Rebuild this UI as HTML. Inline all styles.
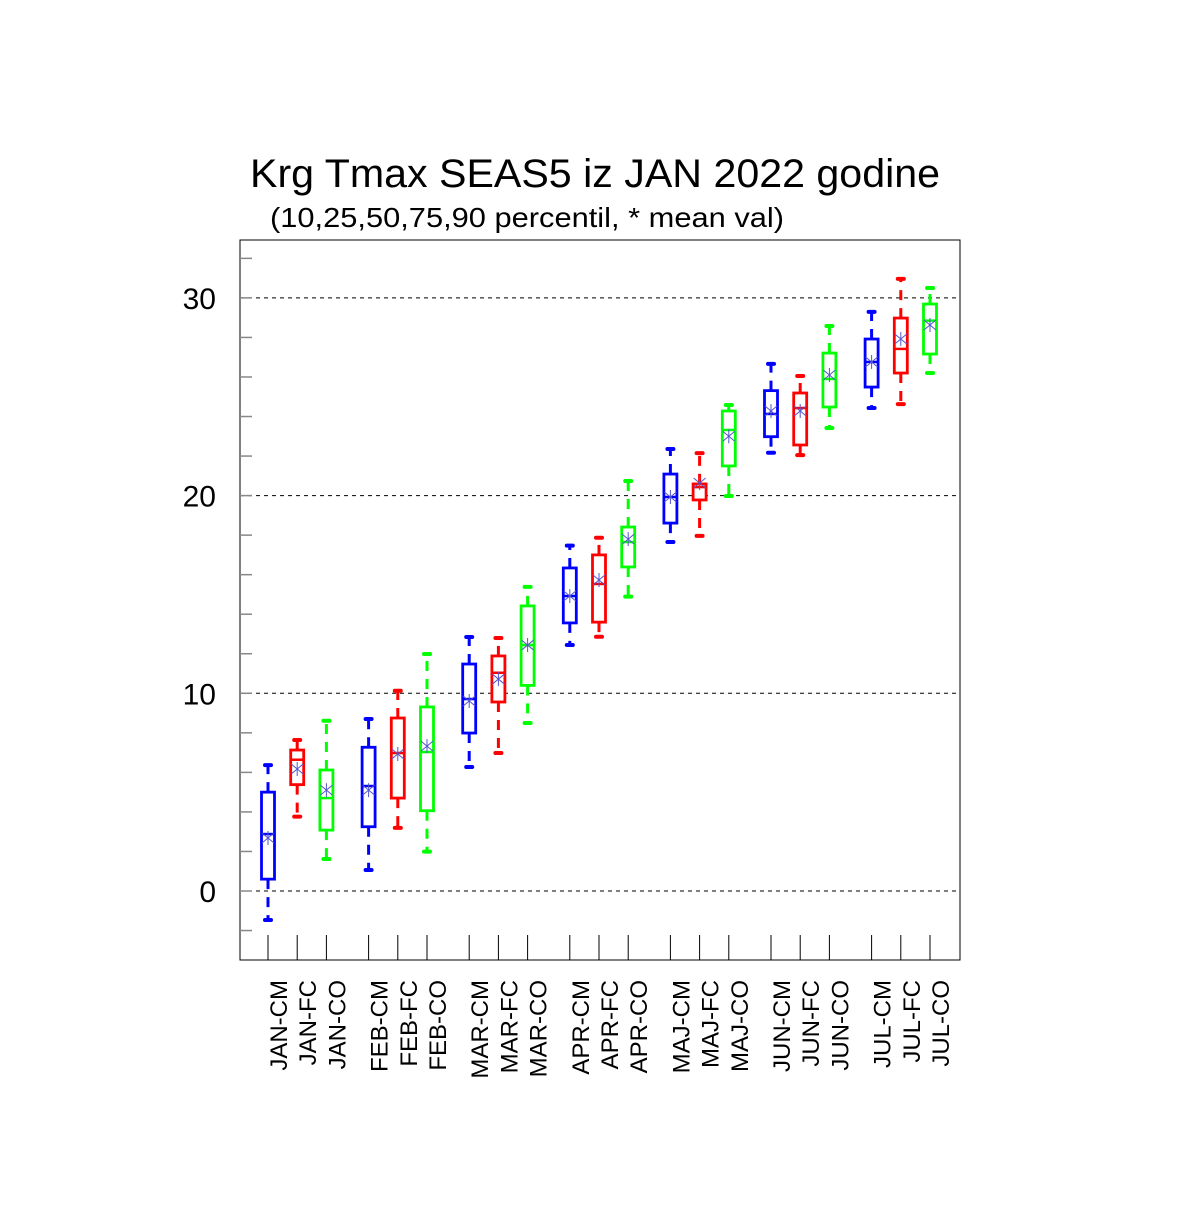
<!DOCTYPE html>
<html><head><meta charset="utf-8"><style>
body{margin:0;background:#fff}
text{font-family:"Liberation Sans",sans-serif}
</style></head><body>
<svg id="chart" width="1200" height="1200" xmlns="http://www.w3.org/2000/svg">
<rect width="1200" height="1200" fill="#fff"/>
<text x="250" y="187" font-size="40" textLength="690" lengthAdjust="spacingAndGlyphs">Krg Tmax SEAS5 iz JAN 2022 godine</text>
<text x="270" y="227" font-size="28" textLength="514" lengthAdjust="spacingAndGlyphs">(10,25,50,75,90 percentil, * mean val)</text>
<g id="grid"></g>
<g id="marks"></g>
<rect x="240" y="240" width="720" height="720" fill="none" stroke="#000" stroke-width="1"/>
<g id="axes"></g>
</svg>
<script>
const categories=["JAN-CM","JAN-FC","JAN-CO","FEB-CM","FEB-FC","FEB-CO","MAR-CM","MAR-FC","MAR-CO","APR-CM","APR-FC","APR-CO","MAJ-CM","MAJ-FC","MAJ-CO","JUN-CM","JUN-FC","JUN-CO","JUL-CM","JUL-FC","JUL-CO"];
const p10=[-1.47,3.76,1.62,1.06,3.19,1.99,6.27,6.98,8.5,12.44,12.86,14.89,17.65,17.96,19.98,22.17,22.05,23.42,24.43,24.63,26.2];
const p25=[0.6,5.38,3.08,3.25,4.7,4.06,7.99,9.56,10.4,13.56,13.6,16.39,18.61,19.78,21.5,22.98,22.56,24.48,25.49,26.2,27.16];
const p50=[2.88,6.64,4.7,5.31,6.98,7.03,9.71,11.04,12.44,14.92,15.53,17.65,19.93,20.43,23.32,24.13,24.43,25.9,26.76,27.42,28.85];
const p75=[5.0,7.13,6.12,7.27,8.75,9.31,11.48,11.89,14.42,16.34,17.0,18.41,21.09,20.59,24.28,25.31,25.19,27.21,27.92,28.98,29.69];
const p90=[6.37,7.64,8.61,8.7,10.13,11.99,12.85,12.8,15.38,17.47,17.87,20.74,22.36,22.15,24.58,26.66,26.05,28.58,29.29,30.96,30.5];
const means=[2.68,6.17,5.1,5.1,6.93,7.33,9.61,10.72,12.44,14.92,15.73,17.8,19.93,20.64,23.0,24.28,24.28,26.1,26.76,27.92,28.63];
const yTicks=[0,10,20,30];
const colors=["#0000ff","#ff0000","#00ff00"];
const NS="http://www.w3.org/2000/svg";
const y=v=>891-(v)*19.77;
const x=i=>268+Math.floor(i/3)*100.6+(i%3)*29.2;
function mk(tag,attrs,parent){const e=document.createElementNS(NS,tag);for(const k in attrs)e.setAttribute(k,attrs[k]);parent.appendChild(e);return e;}
const grid=document.getElementById('grid'),marks=document.getElementById('marks'),axes=document.getElementById('axes');
for(let v=-2;v<=32;v+=2){
  const t=mk('line',{x1:240,x2:252,y1:y(v),y2:y(v),stroke:'#888','stroke-width':1.5},axes);
  
  
}
yTicks.forEach(v=>{
  const g=mk('line',{x1:240,x2:960,y1:y(v),y2:y(v),stroke:'#000','stroke-width':1,'stroke-dasharray':'4,4'},grid);
  
  
  const t=mk('text',{x:216,y:y(v)+11,'font-size':30,'text-anchor':'end'},axes);
  t.textContent=v;
  
  
});
categories.forEach((c,i)=>{
  const cx=x(i),col=colors[i%3];
  const g=mk('g',{},marks);
  
  
  mk('line',{x1:cx,x2:cx,y1:y(p75[i]),y2:y(p90[i]),stroke:col,'stroke-width':3,'stroke-dasharray':'10,8'},g);
  mk('line',{x1:cx,x2:cx,y1:y(p25[i]),y2:y(p10[i]),stroke:col,'stroke-width':3,'stroke-dasharray':'10,8'},g);
  mk('line',{x1:cx-3,x2:cx+3,y1:y(p90[i]),y2:y(p90[i]),stroke:col,'stroke-width':4,'stroke-linecap':'round'},g);
  mk('line',{x1:cx-3,x2:cx+3,y1:y(p10[i]),y2:y(p10[i]),stroke:col,'stroke-width':4,'stroke-linecap':'round'},g);
  mk('rect',{x:cx-6.5,y:y(p75[i]),width:13,height:y(p25[i])-y(p75[i]),fill:'#fff',stroke:col,'stroke-width':2.8},g);
  mk('line',{x1:cx-6.5,x2:cx+6.5,y1:y(p50[i]),y2:y(p50[i]),stroke:col,'stroke-width':2.5},g);
  const my=y(means[i]);
  const m=mk('g',{stroke:'#5555cc','stroke-width':1},g);
  
  
  mk('line',{x1:cx-6,x2:cx+6,y1:my-5,y2:my+5},m);
  mk('line',{x1:cx-6,x2:cx+6,y1:my+5,y2:my-5},m);
  mk('line',{x1:cx,x2:cx,y1:my-7,y2:my+7},m);
  const tk=mk('line',{x1:cx,x2:cx,y1:935,y2:960,stroke:'#000','stroke-width':1},axes);
  
  
  const t=mk('text',{x:0,y:0,'font-size':24,'text-anchor':'end',transform:`translate(${cx+19},980) rotate(-90)`},axes);
  t.textContent=c;
  
  
});
</script>
</body></html>
